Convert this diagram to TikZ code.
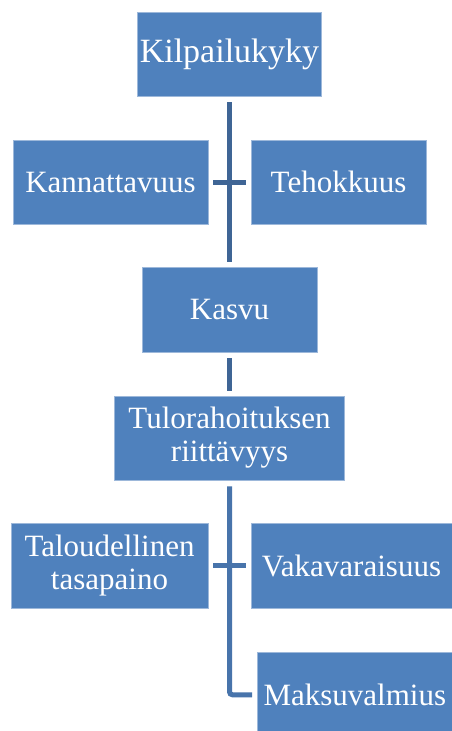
\documentclass[tikz,border=0pt]{standalone}
\usepackage{fontspec}
\setmainfont{Liberation Serif}
\newfontfamily\tnr{Liberation Serif}
\definecolor{boxblue}{HTML}{4F81BD}
\definecolor{boxedge}{HTML}{9DB8DA}
\definecolor{lineA}{HTML}{3F6595}
\definecolor{lineB}{HTML}{4874AB}
\begin{document}
\begin{tikzpicture}[x=1pt,y=-1pt,
  box/.style={rectangle, fill=boxblue, draw=boxedge, line width=0.6pt, inner sep=0pt,
    text=white, align=center, font=\tnr\fontsize{31}{33}\selectfont},
  conn/.style={line width=5pt, shorten <=6pt, shorten >=5pt}]
\clip (0,0) rectangle (452,731);
\fill[white] (0,0) rectangle (452,731);
\node[box, minimum width=184pt, minimum height=84pt, font=\tnr\fontsize{34}{36}\selectfont] (K) at (229.5,54) {Kilpailukyky};
\node[box, minimum width=195pt, minimum height=84pt] (Kan) at (110.5,182) {Kannattavuus};
\node[box, minimum width=175pt, minimum height=84pt] (Teh) at (338.5,182) {Tehokkuus};
\node[box, minimum width=175pt, minimum height=85pt] (Kas) at (229.5,309.5) {Kasvu};
\node[box, minimum width=230pt, minimum height=84pt] (Tul) at (229.5,438) {Tulorahoituksen\\riittävyys};
\node[box, minimum width=197pt, minimum height=85pt] (Tal) at (109.5,565.5) {Taloudellinen\\tasapaino};
\node[box, minimum width=201pt, minimum height=85pt] (Vak) at (351.5,565.5) {Vakavaraisuus};
\node[box, minimum width=195pt, minimum height=85pt, anchor=north west] (Mak) at (257,652) {Maksuvalmius};
\draw[conn, lineA] (K.south) -- (Kas.north);
\draw[conn, lineA, shorten <=5pt] (Kan.east) -- (Teh.west);
\draw[conn, lineA] (Kas.south) -- (Tul.north);
\draw[conn, lineB, rounded corners=3pt] (Tul.south) |- (Mak.west);
\draw[conn, lineB, shorten <=5pt] (Tal.east) -- (Vak.west);
\end{tikzpicture}
\end{document}
